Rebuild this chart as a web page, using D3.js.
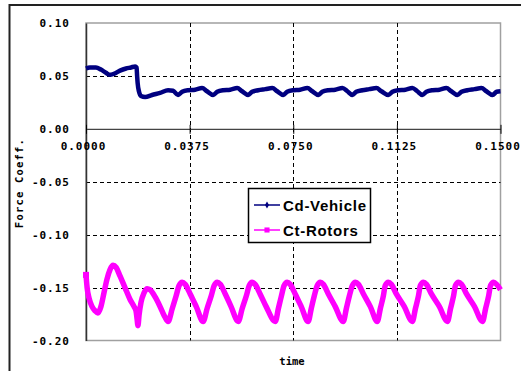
<!DOCTYPE html>
<html>
<head>
<meta charset="utf-8">
<script src="https://cdn.jsdelivr.net/npm/d3@7"></script>
<style>
  body { margin: 0; background: #fff; }
  svg { display: block; }
  .tick text { font-family: "DejaVu Sans Mono", monospace; font-weight: bold; font-size: 11px; fill: #000; }
</style>
</head>
<body>
<div id="chart"></div>
<script>
// time values (s) and coefficients
const cdTime = [0.0000, 0.0014, 0.0036, 0.0054, 0.0072, 0.0087, 0.0101, 0.0123, 0.0145, 0.0163, 0.0178, 0.0183,
  0.0185, 0.0187, 0.0192, 0.0199, 0.0214, 0.0239, 0.0268, 0.0297, 0.0315,
  0.0333, 0.0348, 0.0370, 0.0395, 0.0420, 0.0438,
  0.0460, 0.0475, 0.0496, 0.0522, 0.0547, 0.0565,
  0.0587, 0.0601, 0.0623, 0.0649, 0.0674, 0.0692,
  0.0714, 0.0728, 0.0750, 0.0775, 0.0801, 0.0819,
  0.0841, 0.0855, 0.0877, 0.0902, 0.0928, 0.0946,
  0.0964, 0.0978, 0.1000, 0.1025, 0.1051, 0.1069,
  0.1094, 0.1109, 0.1130, 0.1156, 0.1181, 0.1199,
  0.1217, 0.1232, 0.1254, 0.1279, 0.1304, 0.1322,
  0.1344, 0.1359, 0.1380, 0.1406, 0.1431, 0.1449,
  0.1471, 0.1486, 0.1500];
const cdValue = [0.057, 0.058, 0.058, 0.056, 0.053, 0.051, 0.052, 0.055, 0.057, 0.058, 0.059, 0.058,
  0.050, 0.043, 0.035, 0.031, 0.030, 0.032, 0.034, 0.0365, 0.036,
  0.032, 0.035, 0.0365, 0.037, 0.0385, 0.0355,
  0.032, 0.035, 0.0365, 0.037, 0.0385, 0.0355,
  0.032, 0.035, 0.0365, 0.0375, 0.0385, 0.0355,
  0.032, 0.035, 0.0365, 0.037, 0.0385, 0.0355,
  0.032, 0.035, 0.0365, 0.037, 0.0385, 0.0355,
  0.032, 0.035, 0.0365, 0.0375, 0.0385, 0.0355,
  0.032, 0.035, 0.0365, 0.037, 0.0385, 0.0355,
  0.032, 0.035, 0.0365, 0.037, 0.0385, 0.0355,
  0.032, 0.035, 0.0365, 0.0375, 0.0385, 0.0355,
  0.032, 0.035, 0.0355];

const ctTime = [0.0000, 0.0004, 0.0011, 0.0022, 0.0033, 0.0043, 0.0054, 0.0065, 0.0076, 0.0087, 0.0098, 0.0109,
  0.0123, 0.0141, 0.0159, 0.0174, 0.0181, 0.0185, 0.0188, 0.0192, 0.0199, 0.0210, 0.0221, 0.0232,
  0.0246, 0.0261, 0.0275, 0.0286, 0.0297,
  0.0312, 0.0326, 0.0337, 0.0348, 0.0359, 0.0377, 0.0399,
  0.0424, 0.0438, 0.0453, 0.0464, 0.0475, 0.0486, 0.0504, 0.0525,
  0.0551, 0.0565, 0.0580, 0.0591, 0.0601, 0.0612, 0.0630, 0.0652,
  0.0685, 0.0696, 0.0707, 0.0717, 0.0728, 0.0739, 0.0757, 0.0779,
  0.0804, 0.0815, 0.0826, 0.0837, 0.0848, 0.0859, 0.0877, 0.0902,
  0.0931, 0.0942, 0.0953, 0.0964, 0.0975, 0.0986, 0.1004, 0.1029,
  0.1054, 0.1065, 0.1076, 0.1083, 0.1094, 0.1105, 0.1123, 0.1152,
  0.1181, 0.1192, 0.1203, 0.1210, 0.1221, 0.1232, 0.1250, 0.1279,
  0.1308, 0.1319, 0.1330, 0.1337, 0.1348, 0.1359, 0.1377, 0.1406,
  0.1435, 0.1446, 0.1457, 0.1464, 0.1475, 0.1486, 0.1500];
const ctValue = [-0.138, -0.150, -0.160, -0.168, -0.172, -0.174, -0.168, -0.155, -0.142, -0.133, -0.129, -0.131,
  -0.139, -0.150, -0.161, -0.168, -0.172, -0.180, -0.186, -0.176, -0.164, -0.155, -0.151, -0.152,
  -0.157, -0.164, -0.172, -0.178, -0.182,
  -0.170, -0.158, -0.148, -0.145, -0.147, -0.156, -0.168,
  -0.182, -0.170, -0.158, -0.148, -0.145, -0.147, -0.156, -0.168,
  -0.182, -0.170, -0.158, -0.148, -0.145, -0.147, -0.156, -0.168,
  -0.182, -0.170, -0.158, -0.148, -0.145, -0.147, -0.156, -0.168,
  -0.182, -0.170, -0.158, -0.148, -0.145, -0.147, -0.156, -0.168,
  -0.182, -0.170, -0.158, -0.148, -0.145, -0.147, -0.156, -0.168,
  -0.182, -0.170, -0.158, -0.148, -0.145, -0.147, -0.156, -0.168,
  -0.182, -0.170, -0.158, -0.148, -0.145, -0.147, -0.156, -0.168,
  -0.182, -0.170, -0.158, -0.148, -0.145, -0.147, -0.156, -0.168,
  -0.182, -0.170, -0.158, -0.148, -0.145, -0.147, -0.152];

const xTicks = [0, 0.0375, 0.075, 0.1125, 0.15];
const xTickLabels = ['0.0000', '0.0375', '0.0750', '0.1125', '0.1500'];
const yTicks = [0.10, 0.05, 0.00, -0.05, -0.10, -0.15, -0.20];
const yTickLabels = ['0.10', '0.05', '0.00', '-0.05', '-0.10', '-0.15', '-0.20'];
const seriesNames = ['Cd-Vehicle', 'Ct-Rotors'];
const seriesColors = ['#000080', '#ff00ff'];

const W = 521, H = 371;
const plot = { left: 86, top: 23, right: 500.5, bottom: 340.5 };

const svg = d3.select('#chart').append('svg')
  .attr('width', W).attr('height', H);

// outer frame (only top and left edges fall inside the picture)
svg.append('path')
  .attr('d', `M9.5,${H} V5 H${W}`)
  .attr('fill', 'none').attr('stroke', '#222').attr('stroke-width', 2);

const x = d3.scaleLinear().domain([0, 0.15]).range([plot.left, plot.right]);
const y = d3.scaleLinear().domain([-0.2, 0.1]).range([plot.bottom, plot.top]);

// plot border
svg.append('rect')
  .attr('x', plot.left).attr('y', plot.top)
  .attr('width', plot.right - plot.left).attr('height', plot.bottom - plot.top)
  .attr('fill', '#fff').attr('stroke', '#a0a0a0').attr('stroke-width', 1.5);

// grid
const grid = svg.append('g').attr('stroke', '#000').attr('stroke-width', 1).attr('stroke-dasharray', '4,3');
grid.selectAll('.hg').data(yTicks.filter(d => d !== 0 && d < 0.1 && d > -0.2))
  .enter().append('line')
  .attr('x1', plot.left).attr('x2', plot.right)
  .attr('y1', d => Math.round(y(d)) + 0.5).attr('y2', d => Math.round(y(d)) + 0.5);
grid.selectAll('.vg').data(xTicks.slice(1, -1))
  .enter().append('line')
  .attr('y1', plot.top).attr('y2', plot.bottom)
  .attr('x1', d => Math.round(x(d)) + 0.5).attr('x2', d => Math.round(x(d)) + 0.5);

// y axis (left edge)
const yAxis = svg.append('g')
  .attr('transform', `translate(${plot.left},0)`)
  .call(d3.axisLeft(y).tickValues(yTicks).tickFormat((d, i) => yTickLabels[i]).tickSize(0).tickPadding(16).tickSizeOuter(0));
yAxis.select('.domain').attr('stroke', '#333').attr('stroke-width', 1.5);
yAxis.selectAll('text').attr('letter-spacing', 1);

// x axis on the zero line
const xAxis = svg.append('g')
  .attr('transform', `translate(0,${y(0)})`)
  .call(d3.axisBottom(x).tickValues(xTicks).tickFormat((d, i) => xTickLabels[i]).tickSize(5).tickPadding(8).tickSizeOuter(0));
xAxis.select('.domain').attr('stroke', '#444').attr('stroke-width', 1.2);
xAxis.selectAll('.tick line').attr('y1', -4).attr('stroke', '#000');
xAxis.selectAll('text').attr('letter-spacing', 1).attr('dx', -3);

// series
const cdData = cdTime.map((t, i) => ({ t, v: cdValue[i] }));
const ctData = ctTime.map((t, i) => ({ t, v: ctValue[i] }));
const line = d3.line().x(d => x(d.t)).y(d => y(d.v)).curve(d3.curveMonotoneX);

svg.append('path').datum(ctData)
  .attr('d', line).attr('fill', 'none')
  .attr('stroke', seriesColors[1]).attr('stroke-width', 5.5).attr('stroke-linejoin', 'round');
svg.append('g').selectAll('rect').data(ctData.slice(0, 1))
  .enter().append('rect')
  .attr('x', d => x(d.t) - 3).attr('y', d => y(d.v) - 3)
  .attr('width', 6).attr('height', 6).attr('fill', seriesColors[1]);

svg.append('path').datum(cdData)
  .attr('d', line).attr('fill', 'none')
  .attr('stroke', seriesColors[0]).attr('stroke-width', 4.5).attr('stroke-linejoin', 'round');

// axis titles
svg.append('text')
  .attr('transform', 'translate(23,183) rotate(-90)')
  .attr('text-anchor', 'middle')
  .attr('font-family', '"DejaVu Sans Mono", monospace').attr('font-weight', 'bold')
  .attr('font-size', 10.5).attr('letter-spacing', 1.2)
  .text('Force Coeff.');

svg.append('text')
  .attr('x', 292).attr('y', 365)
  .attr('text-anchor', 'middle')
  .attr('font-family', '"DejaVu Sans Mono", monospace').attr('font-weight', 'bold')
  .attr('font-size', 10.5)
  .text('time');

// legend
const lg = svg.append('g');
lg.append('rect')
  .attr('x', 248.5).attr('y', 188.5).attr('width', 122).attr('height', 54)
  .attr('fill', '#fff').attr('stroke', '#000').attr('stroke-width', 1.5);
const rows = lg.selectAll('.row').data(seriesNames)
  .enter().append('g')
  .attr('transform', (d, i) => `translate(0,${205 + i * 25})`);
rows.append('line')
  .attr('x1', 254).attr('x2', 280)
  .attr('stroke', (d, i) => seriesColors[i]).attr('stroke-width', 1.5);
rows.append('path')
  .attr('transform', 'translate(267,0)')
  .attr('d', (d, i) => i === 0 ? d3.symbol(d3.symbolDiamond, 14)() : d3.symbol(d3.symbolSquare, 26)())
  .attr('fill', (d, i) => seriesColors[i]);
rows.append('text')
  .attr('x', 283).attr('y', 6)
  .attr('font-family', '"Liberation Sans", Arial, sans-serif').attr('font-weight', 'bold')
  .attr('font-size', 15).attr('letter-spacing', 0.7)
  .text(d => d);
</script>
</body>
</html>
